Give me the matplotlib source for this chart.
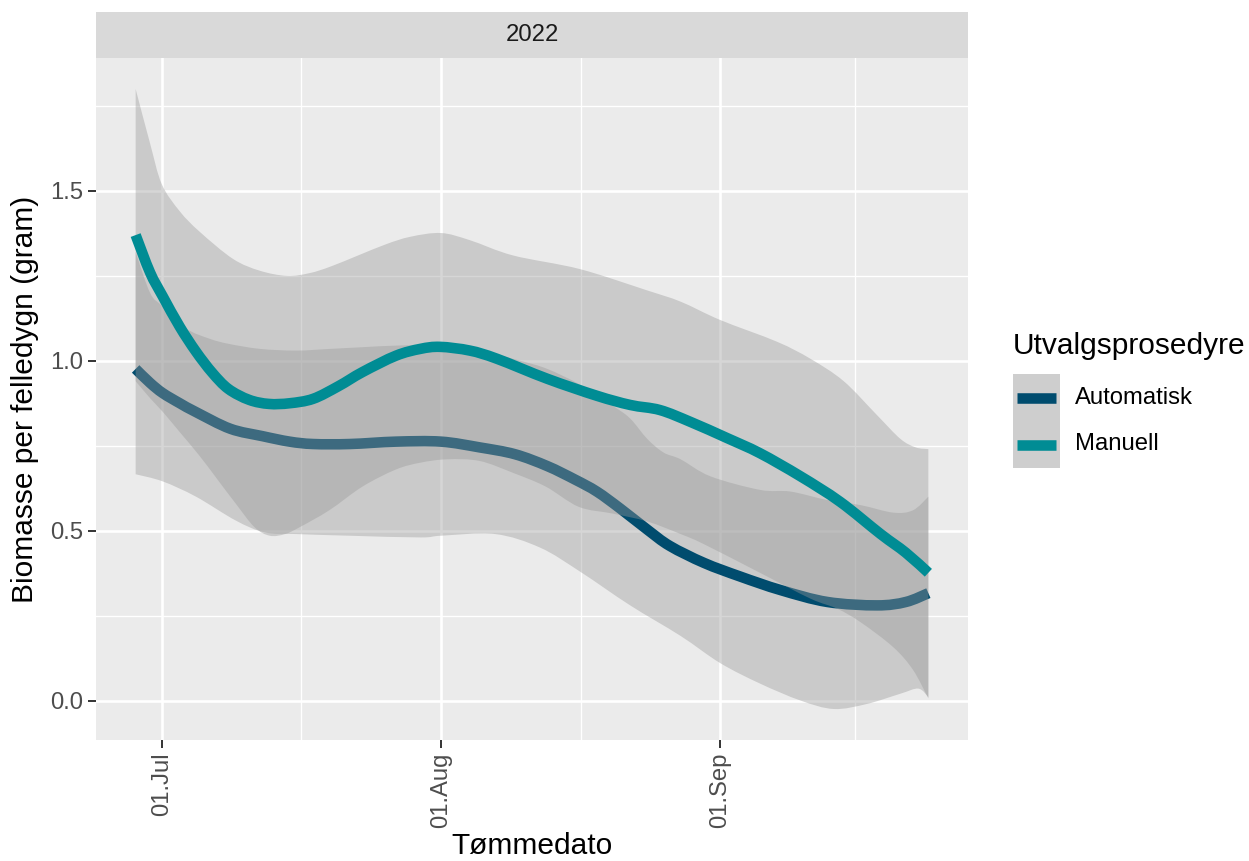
import numpy as np
import matplotlib
matplotlib.use("Agg")
import matplotlib.pyplot as plt
from matplotlib.patches import Rectangle, PathPatch
from matplotlib.lines import Line2D
from matplotlib.path import Path

plt.rcParams['font.family'] = ['Liberation Sans', 'DejaVu Sans']

# days counted from 1 July 2022
man_x = [-2.9, -1.3, 0.1, 2.0, 3.8, 5.6, 7.4, 9.7, 11.9, 14.2, 16.8, 19.6, 22.3, 26.0,
         28.7, 30.9, 34.2, 37.2, 42.8, 48.3, 52.0, 55.3, 58.7, 62.8, 66.4, 70.9, 75.3,
         79.8, 82.6, 85.1]
man_y = [1.37, 1.26, 1.19, 1.10, 1.027, 0.965, 0.917, 0.885, 0.873, 0.875, 0.888, 0.925,
         0.967, 1.015, 1.035, 1.041, 1.03, 1.006, 0.947, 0.897, 0.87, 0.855, 0.82, 0.772,
         0.728, 0.66, 0.585, 0.49, 0.435, 0.376]

aut_x = [-2.9, -1.3, 0.1, 2.0, 3.8, 7.6, 11.2, 14.2, 16.8, 20.9, 26.0, 31.0, 35.3, 39.2,
         42.8, 45.9, 48.3, 50.9, 53.9, 56.4, 60.2, 64.2, 68.7, 73.9, 79.4, 82.6, 85.1]
aut_y = [0.976, 0.935, 0.905, 0.875, 0.849, 0.80, 0.778, 0.762, 0.755, 0.755, 0.762, 0.762,
         0.745, 0.725, 0.69, 0.65, 0.615, 0.565, 0.503, 0.455, 0.405, 0.365, 0.325, 0.29,
         0.28, 0.29, 0.316]

# confidence bands
man_hi_x = [-2.9, -1.3, 0.0, 2.0, 4.2, 7.9, 10.9, 13.9, 16.4, 19.0, 24.6, 27.6, 31.0, 34.2,
            39.0, 46.4, 53.9, 57.6, 62.0, 68.3, 72.0, 75.7, 79.4, 82.0, 83.7, 85.1]
man_hi_y = [1.80, 1.64, 1.52, 1.44, 1.38, 1.30, 1.265, 1.25, 1.258, 1.28, 1.34, 1.365, 1.376,
            1.355, 1.31, 1.27, 1.207, 1.174, 1.12, 1.056, 1.006, 0.94, 0.84, 0.77, 0.745, 0.74]
man_lo_x = [-2.9, -1.3, 0.1, 2.0, 4.2, 6.2, 8.2, 10.3, 12.0, 13.7, 15.3, 18.6, 22.3, 26.0,
            28.7, 31.7, 35.3, 39.0, 42.6, 46.3, 50.1, 53.9, 57.6, 60.2, 66.4, 72.0, 75.0,
            77.6, 81.2, 83.4, 85.1]
man_lo_y = [0.94, 0.89, 0.85, 0.79, 0.72, 0.65, 0.58, 0.51, 0.485, 0.49, 0.51, 0.56, 0.63,
            0.68, 0.70, 0.71, 0.705, 0.67, 0.63, 0.57, 0.55, 0.527, 0.49, 0.46, 0.376, 0.30,
            0.27, 0.23, 0.157, 0.09, 0.006]

aut_hi_x = [-2.9, -1.3, 0.1, 2.7, 5.3, 7.4, 10.9, 14.9, 18.7, 22.3, 26.4, 31.0, 35.3, 39.8,
            42.8, 46.4, 50.1, 52.0, 53.9, 55.7, 57.6, 60.9, 66.4, 69.8, 73.9, 77.6, 81.2,
            83.4, 85.1]
aut_hi_y = [1.32, 1.20, 1.16, 1.095, 1.065, 1.05, 1.035, 1.03, 1.035, 1.04, 1.045, 1.045,
            1.03, 1.0, 0.976, 0.93, 0.867, 0.83, 0.77, 0.73, 0.71, 0.66, 0.62, 0.615, 0.59,
            0.575, 0.553, 0.56, 0.60]
aut_lo_x = [-2.9, 0.1, 3.8, 8.2, 11.4, 14.9, 20.9, 28.7, 31.0, 37.0, 42.0, 46.4, 52.0, 57.6,
            62.0, 66.4, 70.9, 74.6, 78.3, 82.0, 84.0, 85.1]
aut_lo_y = [0.666, 0.645, 0.60, 0.53, 0.495, 0.49, 0.485, 0.48, 0.485, 0.49, 0.45, 0.38,
            0.28, 0.19, 0.11, 0.05, 0.0, -0.025, -0.01, 0.02, 0.035, 0.01]

groups = ['Automatisk', 'Manuell']
colors = ['#004C6E', '#008C94']

x_breaks = [0, 31, 62]
x_minor = [15.5, 46.5, 77]
x_labels = ['01.Jul', '01.Aug', '01.Sep']
y_breaks = [0.0, 0.5, 1.0, 1.5]
y_minor = [0.25, 0.75, 1.25, 1.75]
y_labels = ['0.0', '0.5', '1.0', '1.5']
facet = '2022'


def bezier_segments(xs, ys):
    # Catmull-Rom through the points, written as cubic Bezier pieces
    p = np.column_stack([xs, ys]).astype(float)
    q = np.vstack([p[0], p, p[-1]])
    verts, codes = [], []
    for i in range(1, len(q) - 2):
        c1 = q[i] + (q[i + 1] - q[i - 1]) / 6
        c2 = q[i + 1] - (q[i + 2] - q[i]) / 6
        verts += [c1, c2, q[i + 1]]
        codes += [Path.CURVE4] * 3
    return p[0], verts, codes


def curve_path(xs, ys):
    start, verts, codes = bezier_segments(xs, ys)
    return Path([start] + verts, [Path.MOVETO] + codes)


def band_path(hx, hy, lx, ly):
    s1, v1, c1 = bezier_segments(hx, hy)
    s2, v2, c2 = bezier_segments(lx[::-1], ly[::-1])
    verts = [s1] + v1 + [s2] + v2 + [s1]
    codes = [Path.MOVETO] + c1 + [Path.LINETO] + c2 + [Path.CLOSEPOLY]
    return Path(verts, codes)


W, H = 1249, 861
fig = plt.figure(figsize=(W / 100, H / 100), dpi=100)
ax = fig.add_axes([96 / W, 1 - 740 / H, 872 / W, 682 / H])
ax.set_facecolor('#EBEBEB')
for s in ax.spines.values():
    s.set_visible(False)

series = [
    (aut_x, aut_y, aut_hi_x, aut_hi_y, aut_lo_x, aut_lo_y),
    (man_x, man_y, man_hi_x, man_hi_y, man_lo_x, man_lo_y),
]
z = 2
for (lx, ly, hx, hy, bx, by), col in zip(series, colors):
    ax.add_patch(PathPatch(band_path(hx, hy, bx, by), facecolor='#999999', alpha=0.4,
                           lw=0, zorder=z))
    ax.add_patch(PathPatch(curve_path(lx, ly), facecolor='none', edgecolor=col, lw=7.6,
                           capstyle='butt', joinstyle='round', zorder=z + 1))
    z += 2

# ggplot-like 5% expansion
allx = np.r_[man_hi_x, aut_lo_x]
ally = np.r_[man_hi_y, man_lo_y, aut_hi_y, aut_lo_y]
dx = (allx.max() - allx.min()) * 0.05
dy = (ally.max() - ally.min()) * 0.05
ax.set_xlim(allx.min() - dx, allx.max() + dx)
ax.set_ylim(ally.min() - dy, ally.max() + dy)

ax.set_xticks(x_breaks)
ax.set_xticklabels(x_labels, rotation=90)
ax.set_xticks(x_minor, minor=True)
ax.set_yticks(y_breaks)
ax.set_yticklabels(y_labels)
ax.set_yticks(y_minor, minor=True)
ax.grid(which='major', color='white', lw=1.9)
ax.grid(which='minor', color='white', lw=0.95)
ax.set_axisbelow(True)
ax.tick_params(which='major', length=5.5, width=1.4, color='#333333',
               labelsize=17.2, labelcolor='#4D4D4D', pad=3.6)
ax.tick_params(which='minor', length=0)

ax.set_xlabel('Tømmedato', fontsize=21.5, labelpad=3)
ax.set_ylabel('Biomasse per felledygn (gram)', fontsize=21.5, labelpad=8)

# facet strip
strip = fig.add_axes([96 / W, 1 - 58 / H, 872 / W, 46 / H])
strip.set_facecolor('#D9D9D9')
strip.set_xticks([])
strip.set_yticks([])
for s in strip.spines.values():
    s.set_visible(False)
strip.text(0.5, 0.5, facet, ha='center', va='center', fontsize=17.2,
           color='#1A1A1A', transform=strip.transAxes)


# legend
def fx(p):
    return p / W


def fy(p):
    return 1 - p / H


fig.text(fx(1013), fy(346), 'Utvalgsprosedyre', fontsize=21.5, ha='left', va='center')
for i, (name, col) in enumerate(zip(groups, colors)):
    top = 374 + i * 47
    fig.add_artist(Rectangle((fx(1013), fy(top + 47)), 47 / W, 47 / H,
                             transform=fig.transFigure, facecolor='#F2F2F2', lw=0))
    fig.add_artist(Rectangle((fx(1013), fy(top + 47)), 47 / W, 47 / H,
                             transform=fig.transFigure, facecolor='#999999',
                             alpha=0.4, lw=0))
    cy = fy(top + 23.5)
    fig.add_artist(Line2D([fx(1017), fx(1056)], [cy, cy], transform=fig.transFigure,
                          color=col, lw=7.6, solid_capstyle='butt'))
    fig.text(fx(1075), cy, name, fontsize=17.2, ha='left', va='center')

fig.savefig('out.png', dpi=100)
